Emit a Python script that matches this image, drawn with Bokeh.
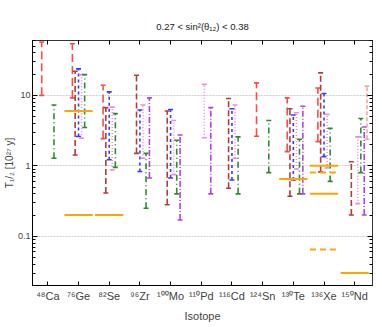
from bokeh.plotting import figure
from bokeh.models import Range1d, FixedTicker, LinearAxis, LogAxis, ColumnDataSource
from bokeh.embed import file_html
from bokeh.resources import INLINE

isotopes = ["48Ca", "76Ge", "82Se", "96Zr", "100Mo", "110Pd", "116Cd", "124Sn", "130Te", "136Xe", "150Nd"]
tick_labels = ["⁴⁸Ca", "⁷⁶Ge", "⁸²Se", "⁹⁶Zr", "¹⁰⁰Mo", "¹¹⁰Pd", "¹¹⁶Cd", "¹²⁴Sn", "¹³⁰Te", "¹³⁶Xe", "¹⁵⁰Nd"]

# error-bar series: isotope, lower and upper half-life (10^27 y)
red_iso = ["48Ca", "76Ge", "82Se", "124Sn", "130Te", "136Xe"]
red_lo = [10.0, 9.2, 2.43, 2.62, 1.59, 2.2]
red_hi = [57.0, 54.0, 13.9, 15.0, 9.2, 12.7]

darkred_iso = ["76Ge", "82Se", "96Zr", "100Mo", "116Cd", "130Te", "136Xe", "150Nd"]
darkred_lo = [1.42, 0.41, 1.5, 0.28, 0.48, 0.37, 0.82, 0.20]
darkred_hi = [22.0, 6.7, 19.3, 6.0, 9.0, 6.45, 20.8, 1.14]

blue_iso = ["76Ge", "82Se", "96Zr", "100Mo", "116Cd", "130Te", "136Xe"]
blue_lo = [2.6, 1.22, 0.83, 0.67, 0.63, 0.63, 1.35]
blue_hi = [23.7, 11.2, 6.2, 6.3, 6.45, 5.25, 10.6]

pink_iso = ["76Ge", "82Se", "96Zr", "100Mo", "110Pd", "116Cd", "130Te", "136Xe", "150Nd"]
pink_lo = [2.46, 0.87, 1.28, 0.75, 2.5, 1.28, 0.9, 0.93, 0.29]
pink_hi = [19.7, 6.8, 7.3, 4.4, 14.3, 7.3, 5.65, 5.37, 2.57]

green_iso = ["48Ca", "76Ge", "82Se", "96Zr", "100Mo", "116Cd", "124Sn", "130Te", "136Xe", "150Nd"]
green_lo = [1.28, 3.5, 0.95, 0.25, 0.40, 0.40, 0.80, 0.40, 0.6, 0.80]
green_hi = [7.3, 19.7, 5.5, 1.5, 2.3, 2.57, 4.4, 2.38, 3.4, 4.7]

purple_iso = ["96Zr", "100Mo", "110Pd", "130Te", "150Nd"]
purple_lo = [0.67, 0.17, 0.40, 0.40, 0.20]
purple_hi = [9.2, 2.74, 6.7, 7.0, 3.55]

coral_iso = ["150Nd"]
coral_lo = [2.38]
coral_hi = [13.5]

# horizontal (orange) limits
orange_solid_iso = ["76Ge", "76Ge", "82Se", "130Te", "136Xe", "136Xe", "150Nd"]
orange_solid_val = [6.0, 0.2, 0.2, 0.65, 1.0, 0.40, 0.030]
orange_dash_iso = ["136Xe", "136Xe"]
orange_dash_val = [0.80, 0.065]

FONT = "Liberation Sans"

p = figure(width=374, height=327, x_range=Range1d(0.5, 11.58), y_range=Range1d(0.02, 60),
           y_axis_type="log", output_backend="svg", toolbar_location=None,
           title="0.27 < sin²(θ₁₂) < 0.38",
           min_border_left=22, min_border_right=2, min_border_top=40, min_border_bottom=42)
p.background_fill_color = "white"
p.border_fill_color = "white"
p.outline_line_color = "#333333"
p.outline_line_width = 1

p.title.align = "center"
p.title.text_font = FONT
p.title.text_font_size = "9.5px"
p.title.text_font_style = "normal"
p.title.text_color = "#222222"
p.title.standoff = 18

xticker = FixedTicker(ticks=list(range(1, len(isotopes) + 1)))
minor = []
for dec in [0.01, 0.1, 1.0, 10.0]:
    for k in range(2, 10):
        minor.append(round(dec * k, 4))
yticker = FixedTicker(ticks=[0.1, 1, 10], minor_ticks=minor)

xa = p.xaxis[0]
xa.ticker = xticker
xa.major_label_overrides = {i + 1: lab for i, lab in enumerate(tick_labels)}
xa.major_tick_in = 4
xa.major_tick_out = 0
xa.minor_tick_line_color = None
xa.axis_label = "Isotope"
xa.axis_label_text_font = FONT
xa.axis_label_text_font_style = "normal"
xa.axis_label_text_font_size = "11px"
xa.major_label_text_font = FONT
xa.major_label_text_font_size = "11px"
xa.major_label_standoff = 4
xa.axis_label_standoff = 5

ya = p.yaxis[0]
ya.ticker = yticker
ya.major_label_overrides = {0.1: "0.1", 1: "1", 10: "10"}
ya.major_tick_in = 5
ya.major_tick_out = 0
ya.minor_tick_in = 3
ya.minor_tick_out = 0
ya.axis_label = "T₁/₂ [10²⁷ y]"
ya.axis_label_text_font = FONT
ya.axis_label_text_font_style = "normal"
ya.axis_label_text_font_size = "10px"
ya.major_label_text_font = FONT
ya.major_label_text_font_size = "9px"
ya.major_label_standoff = 2
ya.axis_label_standoff = 0

top = LinearAxis(ticker=xticker, major_label_overrides={i + 1: "" for i in range(len(isotopes))},
                 major_label_text_color=None, major_label_standoff=0,
                 major_tick_in=4, major_tick_out=0, minor_tick_line_color=None,
                 axis_line_color="#333333")
p.add_layout(top, "above")
right = LogAxis(ticker=yticker, major_label_overrides={0.1: "", 1: "", 10: ""},
                major_label_text_color=None, major_label_standoff=0,
                major_tick_in=5, major_tick_out=0, minor_tick_in=3, minor_tick_out=0,
                axis_line_color="#333333")
p.add_layout(right, "right")

p.xgrid.grid_line_color = None
p.ygrid.grid_line_color = "#cfcfcf"
p.ygrid.grid_line_dash = "2 1"

def xpos(iso_list, off):
    return [isotopes.index(i) + 1 + off for i in iso_list]

series = [
    (red_iso, red_lo, red_hi, -0.2, "#ff4a4a", "8 4", 1.6),
    (darkred_iso, darkred_lo, darkred_hi, -0.11, "#b33c3c", "6 3", 1.6),
    (blue_iso, blue_lo, blue_hi, 0.0, "#3a3aff", "3 3", 1.6),
    (pink_iso, pink_lo, pink_hi, 0.1, "#e98ce9", "1 2", 1.6),
    (green_iso, green_lo, green_hi, 0.2, "#2f8a2f", "6 3 1 3", 1.6),
    (purple_iso, purple_lo, purple_hi, 0.31, "#b144e0", "6 2 1 2", 1.6),
    (coral_iso, coral_lo, coral_hi, 0.4, "#f08888", "4 2", 1.2),
]
for iso, lo, hi, off, col, dash, lw in series:
    src = ColumnDataSource(dict(x=xpos(iso, off), lo=lo, hi=hi))
    p.segment(x0="x", y0="lo", x1="x", y1="hi", source=src, line_color=col,
              line_width=lw, line_dash=dash)
    p.scatter(x="x", y="lo", source=src, marker="dash", size=5, line_color=col, line_width=lw)
    p.scatter(x="x", y="hi", source=src, marker="dash", size=5, line_color=col, line_width=lw)

half = 0.46
xs = xpos(orange_solid_iso, 0.0)
p.segment(x0=[x - half for x in xs], y0=orange_solid_val, x1=[x + half for x in xs],
          y1=orange_solid_val, line_color="#ffa500", line_width=2)
xd = xpos(orange_dash_iso, 0.0)
p.segment(x0=[x - half for x in xd], y0=orange_dash_val, x1=[x + half for x in xd],
          y1=orange_dash_val, line_color="#ffa500", line_width=2, line_dash="6 4")

open("out.html", "w").write(file_html(p, INLINE))
